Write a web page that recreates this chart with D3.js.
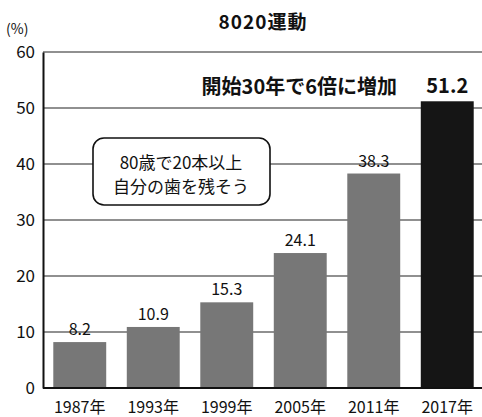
<!DOCTYPE html>
<html>
<head>
<meta charset="utf-8">
<script src="https://cdn.jsdelivr.net/npm/d3@7"></script>
<style>
  body { margin: 0; background: #fff; }
  text { font-family: "Noto Sans CJK JP", "Noto Sans", sans-serif; fill: #111; }
</style>
</head>
<body>
<div id="chart"></div>
<script>
// 8020運動 達成者の割合
const years = ["1987年", "1993年", "1999年", "2005年", "2011年", "2017年"];
const rates = [8.2, 10.9, 15.3, 24.1, 38.3, 51.2];
const yTicks = [0, 10, 20, 30, 40, 50, 60];

const width = 482, height = 417;
const margin = {top: 52, right: 0, bottom: 29, left: 43};

const svg = d3.select("#chart")
              .append("svg")
              .attr("width", width)
              .attr("height", height);

const x = d3.scaleBand()
            .domain(years)
            .range([margin.left, 484])
            .paddingInner(0.28)
            .paddingOuter(0.14);

const y = d3.scaleLinear()
            .domain([0, 60])
            .range([height - margin.bottom, margin.top]);

// gridlines
svg.append("g")
   .selectAll("line")
   .data(yTicks.filter(d => d > 0))
   .enter()
   .append("line")
   .attr("x1", margin.left)
   .attr("x2", width)
   .attr("y1", d => y(d))
   .attr("y2", d => y(d))
   .attr("stroke", "#222")
   .attr("stroke-width", 1.2);

// y axis
const yAxis = svg.append("g")
   .attr("transform", `translate(${margin.left},0)`)
   .call(d3.axisLeft(y).tickValues(yTicks).tickSize(0).tickPadding(8));
yAxis.select(".domain").attr("stroke", "#111").attr("stroke-width", 2);
yAxis.selectAll("text")
     .style("font-family", "'Noto Sans CJK JP', sans-serif")
     .style("font-size", "17px")
     .attr("fill", "#111");

// bars
svg.append("g")
   .selectAll("rect")
   .data(rates)
   .enter()
   .append("rect")
   .attr("x", (d, i) => x(years[i]))
   .attr("y", d => y(d))
   .attr("width", x.bandwidth())
   .attr("height", d => y(0) - y(d))
   .attr("fill", (d, i) => i === rates.length - 1 ? "#151515" : "#777");

// baseline
svg.append("line")
   .attr("x1", margin.left)
   .attr("x2", width)
   .attr("y1", y(0))
   .attr("y2", y(0))
   .attr("stroke", "#111")
   .attr("stroke-width", 2);

// value labels
svg.append("g")
   .selectAll("text")
   .data(rates)
   .enter()
   .append("text")
   .attr("x", (d, i) => x(years[i]) + x.bandwidth() / 2)
   .attr("y", (d, i) => i === rates.length - 1 ? y(d) - 8 : y(d) - 7)
   .attr("text-anchor", "middle")
   .style("font-size", (d, i) => i === rates.length - 1 ? "20px" : "16px")
   .style("font-weight", (d, i) => i === rates.length - 1 ? "bold" : "normal")
   .text(d => d.toFixed(1));

// x labels
svg.append("g")
   .selectAll("text")
   .data(years)
   .enter()
   .append("text")
   .attr("x", d => x(d) + x.bandwidth() / 2)
   .attr("y", height - 4)
   .attr("text-anchor", "middle")
   .style("font-size", "16px")
   .text(d => d);

// title and unit
svg.append("text")
   .attr("x", 263)
   .attr("y", 29)
   .attr("text-anchor", "middle")
   .style("font-size", "19px")
   .style("font-weight", "bold")
   .style("letter-spacing", "1px")
   .text("8020運動");

svg.append("text")
   .attr("x", 6)
   .attr("y", 34)
   .style("font-size", "14px")
   .text("(%)");

svg.append("text")
   .attr("x", 397)
   .attr("y", 94)
   .attr("text-anchor", "end")
   .style("font-size", "20px")
   .style("font-weight", "bold")
   .text("開始30年で6倍に増加");

// callout
const callout = svg.append("g").attr("transform", "translate(93,138)");
callout.append("rect")
       .attr("width", 177)
       .attr("height", 67)
       .attr("rx", 11)
       .attr("fill", "#fff")
       .attr("stroke", "#111")
       .attr("stroke-width", 1.6);
callout.append("text")
       .attr("x", 88)
       .attr("y", 31)
       .attr("text-anchor", "middle")
       .style("font-size", "17px")
       .text("80歳で20本以上");
callout.append("text")
       .attr("x", 88)
       .attr("y", 55)
       .attr("text-anchor", "middle")
       .style("font-size", "17px")
       .text("自分の歯を残そう");
</script>
</body>
</html>
